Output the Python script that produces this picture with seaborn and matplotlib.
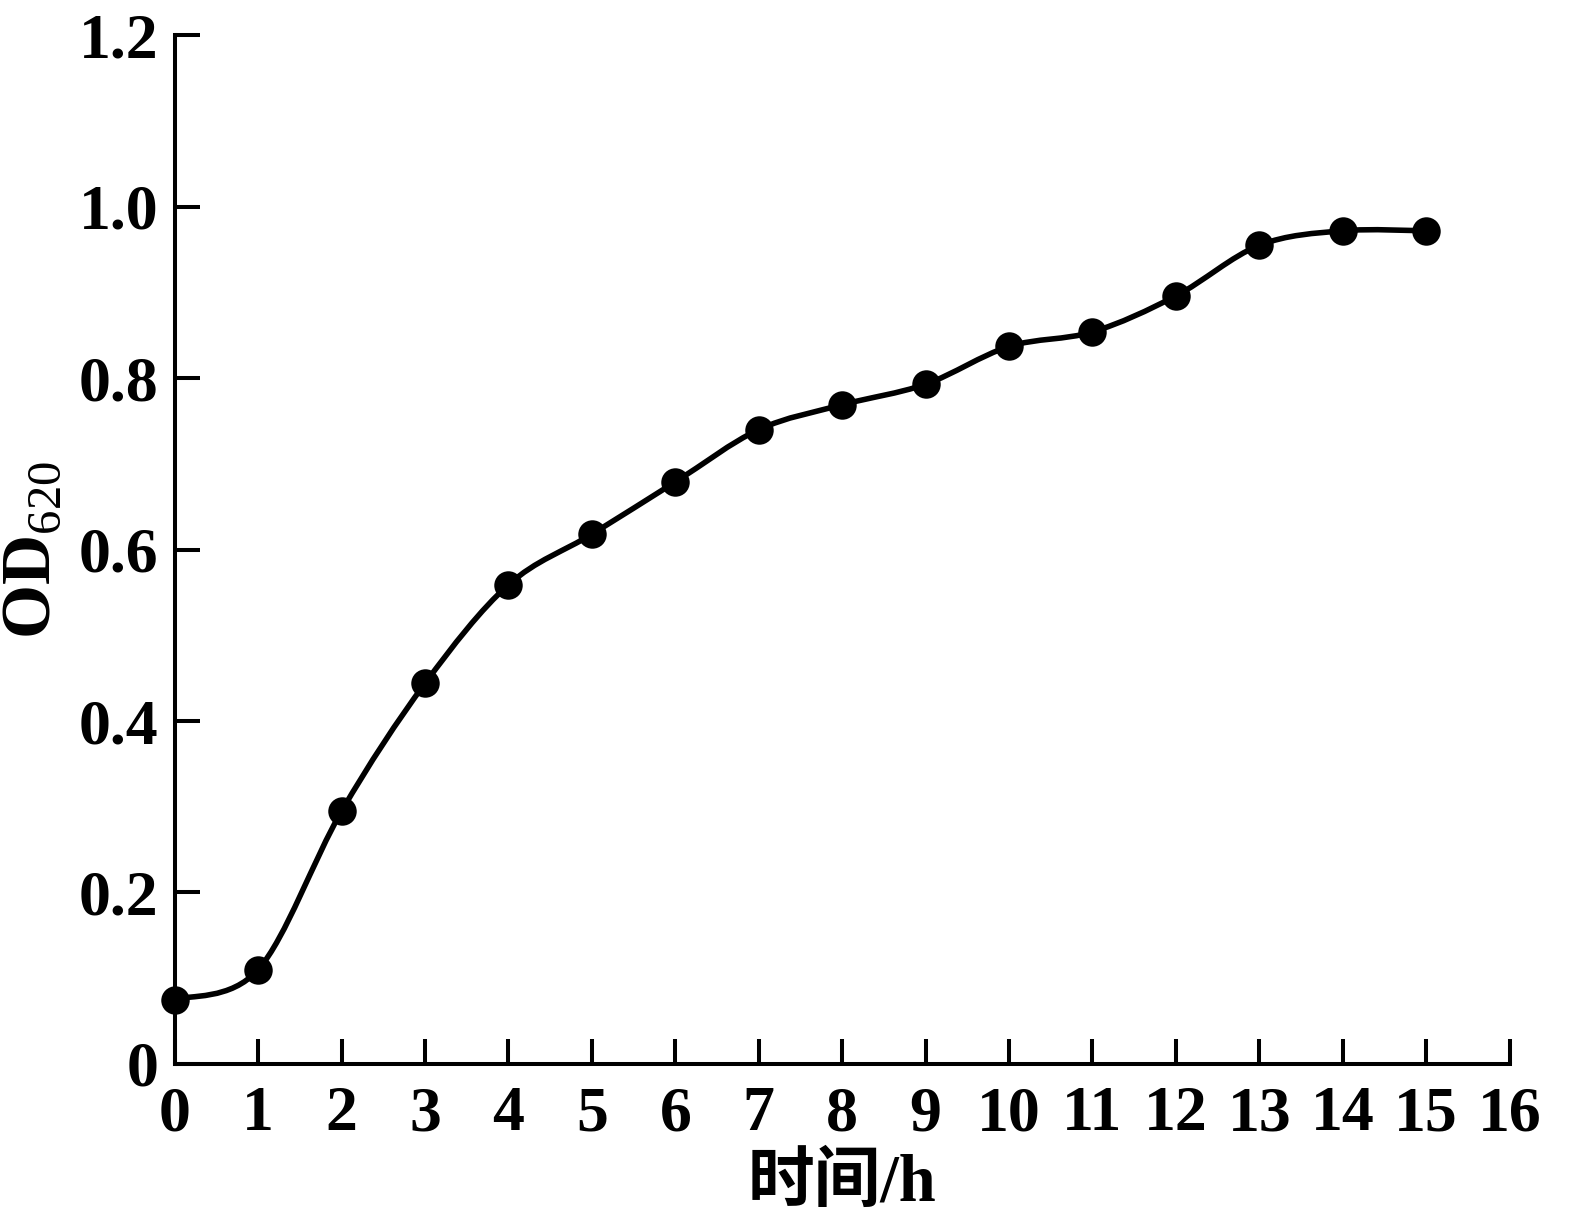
import numpy as np
import seaborn as sns
import matplotlib
matplotlib.use("Agg")
from matplotlib import pyplot as plt
from matplotlib.path import Path
from matplotlib.patches import PathPatch

# growth curve data
hours = [0, 1, 2, 3, 4, 5, 6, 7, 8, 9, 10, 11, 12, 13, 14, 15]
od620 = [0.075, 0.110, 0.295, 0.444, 0.559, 0.618, 0.679, 0.740,
         0.769, 0.793, 0.837, 0.854, 0.896, 0.955, 0.972, 0.972]
x_ticks = list(range(0, 17))
y_ticks = [0, 0.2, 0.4, 0.6, 0.8, 1.0, 1.2]
y_tick_labels = ["0", "0.2", "0.4", "0.6", "0.8", "1.0", "1.2"]

sns.set_style("ticks")
plt.rcParams["font.family"] = ["Liberation Serif", "Noto Sans CJK SC"]
plt.rcParams["font.weight"] = "bold"
plt.rcParams["text.color"] = "black"
plt.rcParams["axes.labelcolor"] = "black"
plt.rcParams["mathtext.fontset"] = "custom"
plt.rcParams["mathtext.rm"] = "Liberation Serif:weight=normal"
plt.rcParams["mathtext.bf"] = "Liberation Serif:bold"


def smooth_path(xs, ys):
    # Catmull-Rom style bezier through the points (like a "smoothed line")
    pts = np.column_stack([xs, ys]).astype(float)
    n = len(pts)
    verts = [pts[0]]
    codes = [Path.MOVETO]
    for i in range(n - 1):
        p0 = pts[max(i - 1, 0)]
        p1 = pts[i]
        p2 = pts[i + 1]
        p3 = pts[min(i + 2, n - 1)]
        c1 = p1 + (p2 - p0) / 6.0
        c2 = p2 - (p3 - p1) / 6.0
        verts += [c1, c2, p2]
        codes += [Path.CURVE4] * 3
    return Path(verts, codes)


fig = plt.figure(figsize=(15.89, 12.2), dpi=100)
ax = fig.add_axes([0.110, 0.128, 0.840, 0.843])

ax.add_patch(PathPatch(smooth_path(hours, od620), facecolor="none",
                       edgecolor="black", lw=4.0, zorder=2,
                       capstyle="round", joinstyle="round"))
sns.scatterplot(x=hours, y=od620, ax=ax, color="black", s=420,
                linewidth=0, zorder=3, clip_on=False)

ax.set_xlim(0, 16)
ax.set_ylim(0, 1.2)
ax.set_xticks(x_ticks)
ax.set_yticks(y_ticks)
ax.set_yticklabels(y_tick_labels)

sns.despine(ax=ax)
for side in ["left", "bottom"]:
    ax.spines[side].set_linewidth(2.9)
    ax.spines[side].set_color("black")

ax.tick_params(axis="both", direction="in", length=18, width=2.9,
               labelsize=46, colors="black")
ax.tick_params(axis="x", pad=16)
ax.tick_params(axis="y", pad=12)
for lab in ax.get_xticklabels() + ax.get_yticklabels():
    lab.set_fontweight("bold")

ax.set_xlabel("时间/h", fontsize=48, fontweight="bold", labelpad=6,
              color="black")
ax.set_ylabel(r"$\mathbf{OD}_{620}$", fontsize=50, labelpad=10,
              color="black")

fig.savefig("out.png", dpi=100)
